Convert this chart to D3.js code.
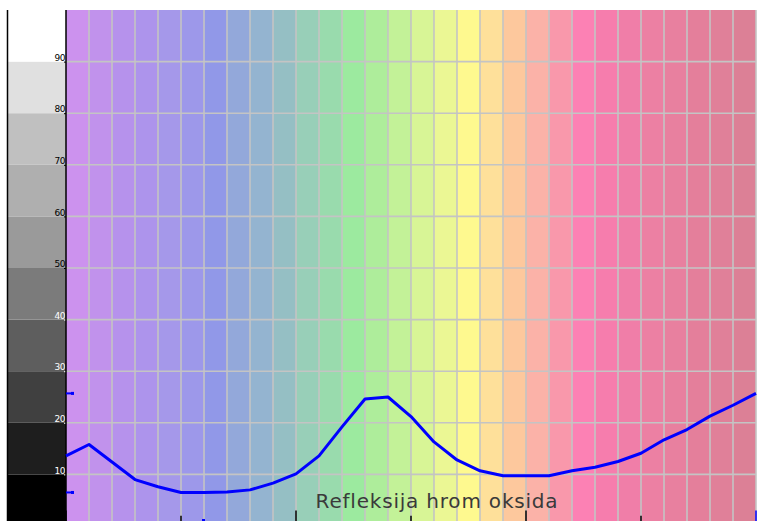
<!DOCTYPE html>
<html>
<head>
<meta charset="utf-8">
<script src="https://cdn.jsdelivr.net/npm/d3@7"></script>
<style>
  body { margin: 0; background: #fff; }
  svg { display: block; }
</style>
</head>
<body>
<script>
// reflectance per column boundary (0..30)
const reflect = [13.6, 15.8, 12.4, 9.0, 7.6, 6.5, 6.5, 6.6, 7.0, 8.3, 10.1, 13.6, 19.2, 24.6, 25.0,
    21.2, 16.3, 12.8, 10.7, 9.75, 9.75, 9.75, 10.7, 11.4, 12.5, 14.1, 16.7, 18.7, 21.3, 23.4, 25.7];
const stripeColors = ['#cc92ee', '#c192ec', '#b692ec', '#ad94ec', '#a598ea', '#9d98ea', '#9198e8',
    '#93a8da', '#94b4d0', '#95bfc4', '#98cfb8', '#99dbad', '#9cea9f', '#aeed9b', '#c3f298',
    '#d8f596', '#ebf794', '#fef98f', '#fee09a', '#fdc89d', '#fbb2a8', '#f998ab', '#fc81b4',
    '#f67dad', '#f07ea8', '#ec80a3', '#e8809f', '#e47f9b', '#e08099', '#dc8096'];
const grayBands = ['#000000', '#1e1e1e', '#404040', '#5e5e5e', '#7b7b7b', '#9a9a9a',
    '#afafaf', '#c0c0c0', '#e0e0e0', '#ffffff'];
const yTicks = [10, 20, 30, 40, 50, 60, 70, 80, 90];
const xMajor = [0, 5, 10, 15, 20, 25, 30];
const title = 'Refleksija hrom oksida';

const W = 761, H = 521;
const x = d3.scaleLinear().domain([0, 30]).range([66, 756]);
const y = d3.scaleLinear().domain([0, 100]).range([526, 10]);

const svg = d3.select('body').append('svg')
    .attr('width', W).attr('height', H);

// grey scale on the left
svg.append('g').selectAll('rect')
    .data(grayBands)
    .join('rect')
    .attr('x', 8)
    .attr('width', 58)
    .attr('y', (d, i) => y((i + 1) * 10))
    .attr('height', (d, i) => y(i * 10) - y((i + 1) * 10))
    .attr('fill', (d) => d);
svg.append('line')
    .attr('x1', 7.5).attr('x2', 7.5)
    .attr('y1', y(100)).attr('y2', H)
    .attr('stroke', '#000').attr('stroke-width', 1.5);

// spectrum stripes
svg.append('g').selectAll('rect')
    .data(stripeColors)
    .join('rect')
    .attr('x', (d, i) => x(i))
    .attr('width', (d, i) => x(i + 1) - x(i))
    .attr('y', y(100))
    .attr('height', y(0) - y(100))
    .attr('fill', (d) => d);

// grid
const grid = svg.append('g')
    .attr('stroke', '#c4c4c4')
    .attr('stroke-width', 1.6);
grid.selectAll('.v')
    .data(d3.range(1, 31))
    .join('line')
    .attr('x1', (d) => x(d)).attr('x2', (d) => x(d))
    .attr('y1', y(100)).attr('y2', y(0));
grid.selectAll('.h')
    .data(yTicks)
    .join('line')
    .attr('x1', x(0)).attr('x2', x(30))
    .attr('y1', (d) => y(d)).attr('y2', (d) => y(d));

// y axis
const yAxis = svg.append('g')
    .attr('transform', `translate(${x(0)},0)`)
    .call(d3.axisLeft(y).tickValues(yTicks).tickSize(2).tickPadding(-1));
yAxis.select('.domain').remove();
yAxis.selectAll('.tick line').attr('stroke', (d) => d <= 40 ? '#fff' : '#000');
yAxis.selectAll('.tick text')
    .attr('dy', '-0.15em')
    .attr('font-family', 'DejaVu Sans, sans-serif')
    .attr('font-size', 9)
    .attr('letter-spacing', -0.5)
    .attr('fill', (d) => d <= 40 ? '#fff' : '#000');
svg.append('line')
    .attr('x1', x(0)).attr('x2', x(0))
    .attr('y1', y(100)).attr('y2', H)
    .attr('stroke', '#000').attr('stroke-width', 1.5);

// x ticks at the bottom
svg.append('g').selectAll('line')
    .data(xMajor)
    .join('line')
    .attr('x1', (d) => x(d)).attr('x2', (d) => x(d))
    .attr('y1', (d) => d % 10 === 0 ? y(3) : y(2))
    .attr('y2', H)
    .attr('stroke', (d) => d === 30 ? '#00f' : '#000')
    .attr('stroke-width', 1.5);

// blue range markers
const marks = [d3.min(reflect), d3.max(reflect)];
svg.append('g').selectAll('line')
    .data(marks)
    .join('line')
    .attr('x1', x(0)).attr('x2', x(0) + 8)
    .attr('y1', (d) => y(d)).attr('y2', (d) => y(d))
    .attr('stroke', '#00f').attr('stroke-width', 2);
svg.append('g').selectAll('rect')
    .data(marks)
    .join('rect')
    .attr('x', x(0) + 5).attr('y', (d) => y(d) - 1.5)
    .attr('width', 3).attr('height', 3)
    .attr('fill', '#00f');
svg.append('rect')
    .attr('x', x(6) - 2).attr('y', H - 2)
    .attr('width', 3).attr('height', 2)
    .attr('fill', '#00f');

// reflectance curve
svg.append('path')
    .datum(reflect)
    .attr('fill', 'none')
    .attr('stroke', '#0000ff')
    .attr('stroke-width', 3)
    .attr('stroke-linejoin', 'round')
    .attr('d', d3.line().x((d, i) => x(i)).y((d) => y(d)));

// title
svg.append('text')
    .attr('x', 437).attr('y', 508)
    .attr('text-anchor', 'middle')
    .attr('font-family', 'DejaVu Sans, sans-serif')
    .attr('font-size', 20)
    .attr('letter-spacing', 0.8)
    .attr('fill', '#3a3a3a')
    .text(title);
</script>
</body>
</html>
